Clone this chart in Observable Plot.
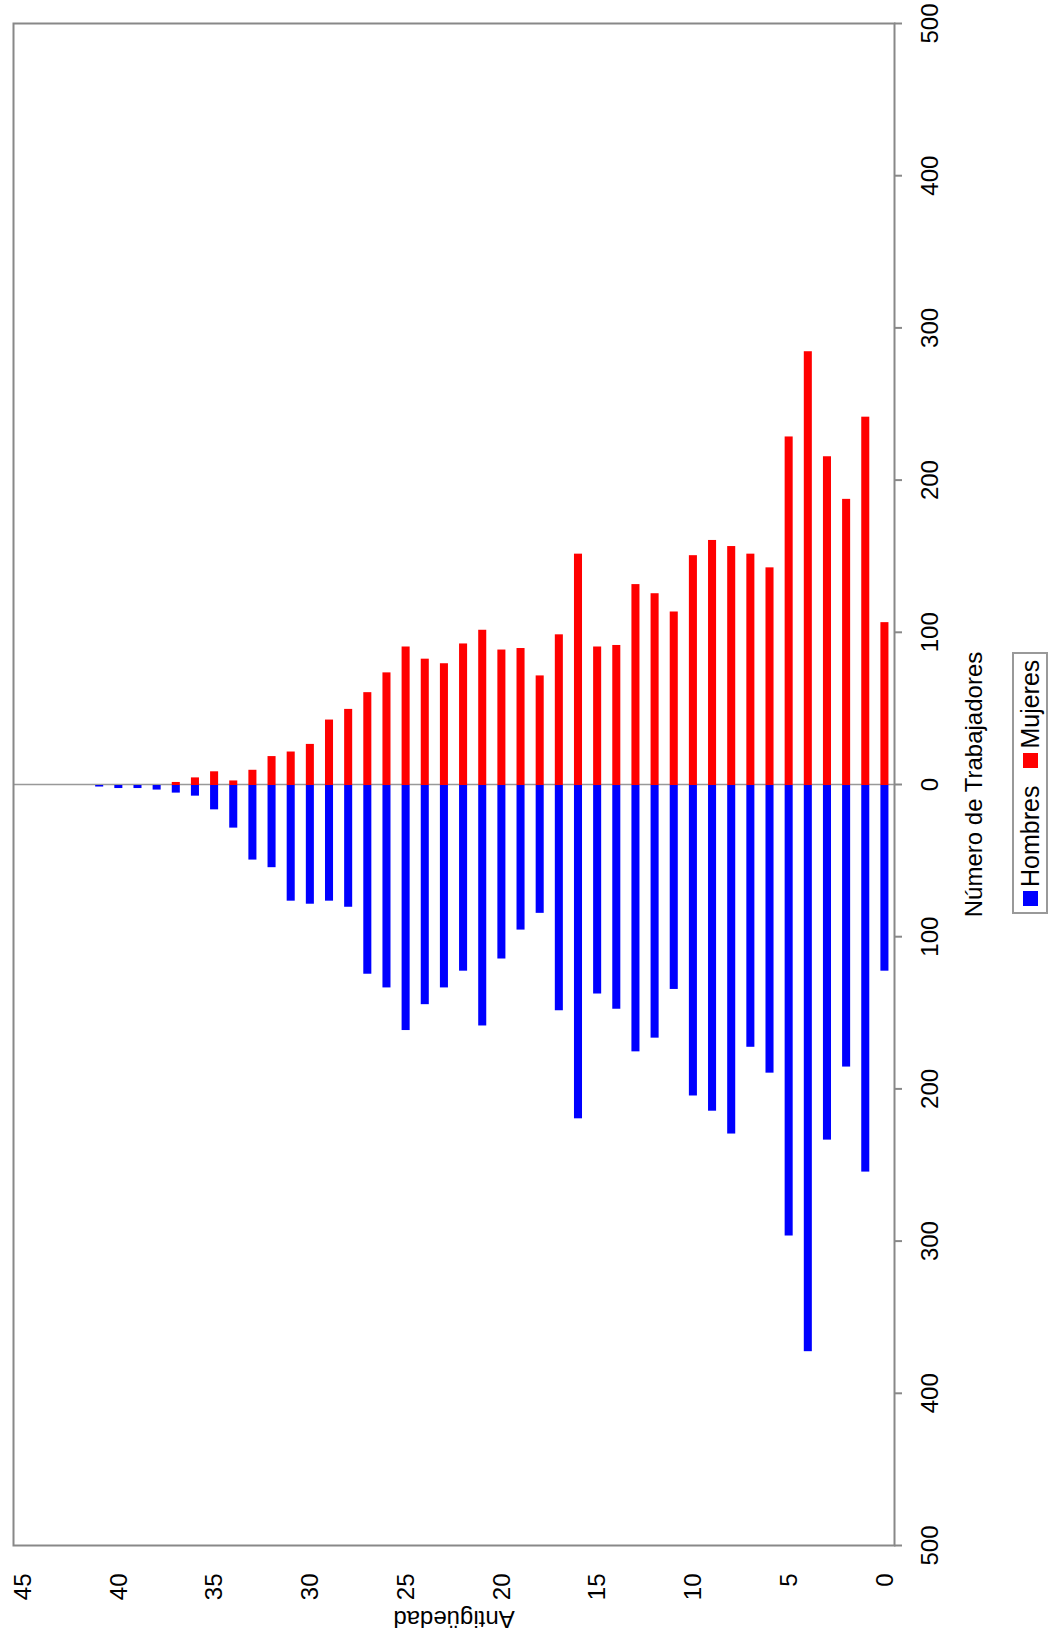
<!DOCTYPE html>
<html>
<head>
<meta charset="utf-8">
<script src="https://cdn.jsdelivr.net/npm/d3@7"></script>
<script src="https://cdn.jsdelivr.net/npm/@observablehq/plot@0.6"></script>
<style>
  html, body { margin: 0; padding: 0; background: #fff; width: 1063px; height: 1642px; overflow: hidden; }
  #rot {
    position: absolute; left: 0; top: 0; width: 1642px; height: 1063px;
    transform-origin: 0 0; transform: translate(0, 1642px) rotate(-90deg);
    font-family: "Liberation Sans", Arial, sans-serif; color: #000; background: #fff;
  }
  #chart { position: absolute; left: 0; top: 0; }
  #legend {
    position: absolute; left: 728px; top: 1012px; width: 262px; height: 36px;
    border: 2px solid #999; box-sizing: border-box; display: flex; align-items: center;
    padding-left: 6px; font-size: 25px; line-height: 1; background: #fff;
  }
  #legend .sw { display: inline-block; width: 15px; height: 15px; }
</style>
</head>
<body>
<div id="rot">
  <div id="chart"></div>
  <div id="legend"></div>
</div>
<script>
// Antigüedad (years of seniority)
const antiguedad = [0,1,2,3,4,5,6,7,8,9,10,11,12,13,14,15,16,17,18,19,20,21,22,23,24,25,26,27,28,29,30,31,32,33,34,35,36,37,38,39,40,41];
// Número de trabajadores
const hombres = [122,254,185,233,372,296,189,172,229,214,204,134,166,175,147,137,219,148,84,95,114,158,122,133,144,161,133,124,80,76,78,76,54,49,28,16,7,5,3,2,2,1];
const mujeres = [107,242,188,216,285,229,143,152,157,161,151,114,126,132,92,91,152,99,72,90,89,102,93,80,83,91,74,61,50,43,27,22,19,10,3,9,5,2,0,0,0,0];
const series = ["Hombres", "Mujeres"];
const colors = ["#0000ff", "#ff0000"];
const xTicks = [-500,-400,-300,-200,-100,0,100,200,300,400,500];
const yTicks = [0,5,10,15,20,25,30,35,40,45];

const data = antiguedad.flatMap((a, i) => [
  {a, sexo: series[0], n: -hombres[i]},
  {a, sexo: series[1], n: mujeres[i]}
]);

const chart = Plot.plot({
  width: 1642, height: 1063,
  marginLeft: 96, marginRight: 24, marginTop: 13, marginBottom: 169,
  style: {fontFamily: "Liberation Sans, Arial, sans-serif", fontSize: "24px", color: "#000", background: "#fff", overflow: "visible"},
  x: {domain: [-500, 500]},
  y: {domain: [-0.5, 45.5]},
  color: {domain: series, range: colors},
  marks: [
    Plot.ruleX([0], {stroke: "#999", strokeWidth: 1.5}),
    Plot.rectX(data, {x1: 0, x2: "n", y1: d => d.a - 0.21, y2: d => d.a + 0.21, fill: "sexo"}),
    Plot.frame({stroke: "#888", strokeWidth: 2}),
    Plot.axisX({ticks: xTicks, tickFormat: d => Math.abs(d), tickSize: 8, tickPadding: 18, stroke: "#888", strokeWidth: 2,
      fontSize: 24, label: "Número de Trabajadores", labelAnchor: "center", labelArrow: "none", labelOffset: 87}),
    Plot.axisY({ticks: yTicks, tickSize: 0, tickPadding: 28, fontSize: 24,
      label: "Antigüedad", labelAnchor: "center", labelArrow: "none", labelOffset: 83})
  ]
});
document.getElementById("chart").appendChild(chart);

const legend = document.getElementById("legend");
series.forEach((s, i) => {
  const sw = document.createElement("span");
  sw.className = "sw";
  sw.style.background = colors[i];
  sw.style.marginLeft = i === 0 ? "0px" : "18px";
  const t = document.createElement("span");
  t.textContent = s;
  t.style.marginLeft = "4px";
  legend.appendChild(sw);
  legend.appendChild(t);
});
</script>
</body>
</html>
